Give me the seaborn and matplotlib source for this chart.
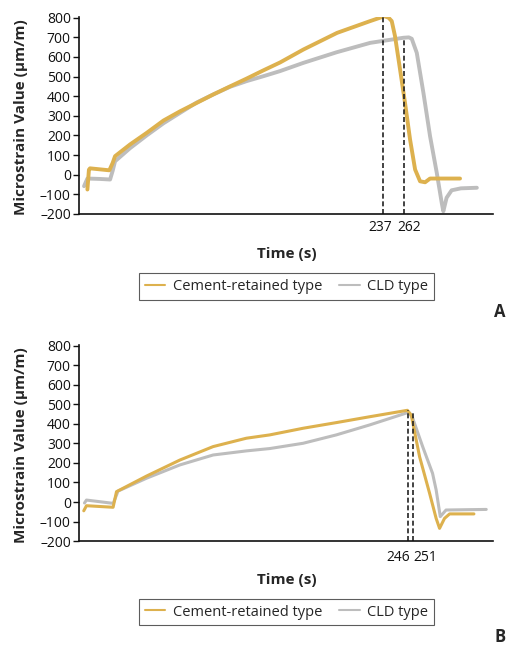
import matplotlib
matplotlib.use("Agg")
import matplotlib.pyplot as plt
import seaborn as sns
import pandas as pd

# ── Data ─────────────────────────────────────────────────────────────────────
# Panel A
a_cement_t = [-114.6, -112.8, -111.5, -100, -88.5, -84.5, -81.7, -63.8, -44, -24, -4.3,
              15.6, 35.3, 55.2, 75, 94.5, 114.7, 142.5, 182.6, 221.9, 239, 244, 247.7,
              251.6, 257.6, 263.5, 269.5, 275.5, 281.4, 287.4, 293.3, 329]
a_cement_v = [-76, 25, 32, 27, 22, 60, 94, 154, 213, 276, 323,
              366, 409, 450, 490, 531, 572, 638, 723, 783, 808, 800, 783,
              706, 536, 366, 179, 26, -34, -39, -20, -20]
a_cld_t = [-118.6, -114.6, -100, -87.6, -84.5, -81.7, -63.8, -44, -24, -4.3, 15.6,
           35.3, 55.2, 75, 94.9, 114.7, 142.5, 182, 222, 261.5, 268, 271.5, 277.5,
           285.4, 293.3, 301.3, 307.2, 309.1, 313, 319, 330, 349]
a_cld_v = [-59, -20, -22, -25, 20, 68, 135, 200, 262, 315, 368,
           409, 448, 477, 502, 528, 570, 624, 672, 698, 700, 693, 621,
           417, 196, 9, -144, -187, -118, -80, -70, -67]
a_peak_t = [237, 262]
a_peak_v = [805, 692]

# Panel B
b_cement_t = [-114.8, -111.8, -82.2, -78.4, -45, -8, 29, 66, 92, 129, 166, 203,
              245, 249.3, 258.6, 269.7, 277, 280.8, 286.3, 292, 319]
b_cement_v = [-45, -19, -27, 53, 133, 215, 284, 327, 344, 378, 407, 437,
              470, 446, 232, 45, -84, -135, -84, -61, -61]
b_cld_t = [-114, -111.8, -82, -76.7, -45, -8, 29, 66, 92, 129, 166, 203,
           246.5, 251, 262, 273, 277, 281.6, 288, 332.7]
b_cld_v = [-5, 10, -7, 56, 122, 190, 241, 262, 274, 301, 344, 395,
           460, 429, 284, 147, 62, -75, -41, -38]
b_peak_t = [246, 251]
b_peak_v = [470, 460]

SERIES = ["Cement-retained type", "CLD type"]
COLORS = {"Cement-retained type": "#DDB14E", "CLD type": "#BDBDBD"}
Y_TICKS = [-200, -100, 0, 100, 200, 300, 400, 500, 600, 700, 800]
Y_LABELS = ["\u2013200", "\u2013100"] + [str(v) for v in Y_TICKS[2:]]


def long_frame(c_t, c_v, d_t, d_v):
    dc = pd.DataFrame({"time": c_t, "strain": c_v, "type": SERIES[0]})
    dd = pd.DataFrame({"time": d_t, "strain": d_v, "type": SERIES[1]})
    return pd.concat([dd, dc], ignore_index=True)


sns.set_theme(style="ticks")
plt.rcParams["font.family"] = ["Open Sans", "DejaVu Sans"]

fig = plt.figure(figsize=(5.07, 6.46), dpi=100)
ax_a = fig.add_axes([0.156, 0.669, 0.816, 0.305])
ax_b = fig.add_axes([0.156, 0.1625, 0.816, 0.3035])

# peak labels sit side by side under the axis, nudged apart (points)
panels = [
    (ax_a, long_frame(a_cement_t, a_cement_v, a_cld_t, a_cld_v), a_peak_t, a_peak_v,
     (-124.5, 368), 2.8, [(-2.0, -10), (4.2, -10)], 0.607, 0.557, "A", 0.517),
    (ax_b, long_frame(b_cement_t, b_cement_v, b_cld_t, b_cld_v), b_peak_t, b_peak_v,
     (-120, 340), 2.2, [(-7.3, -12), (9.0, -12)], 0.102, 0.0526, "B", 0.014),
]

for ax, df, pk_t, pk_v, xlim, lw, pk_off, xl_y, lg_y, tag, tag_y in panels:
    sns.lineplot(data=df, x="time", y="strain", hue="type", hue_order=SERIES[::-1],
                 palette=COLORS, lw=lw, ax=ax, legend=False, sort=False)
    ax.vlines(pk_t, -200, pk_v, colors="#222222", linestyles=(0, (3, 1.6)), lw=1.2)

    ax.set_xlim(*xlim)
    ax.set_ylim(-200, 805)
    ax.set_yticks(Y_TICKS)
    ax.set_yticklabels(Y_LABELS)
    ax.set_xticks([])
    for t, off in zip(pk_t, pk_off):
        ax.annotate(str(t), xy=(t, 0), xycoords=("data", "axes fraction"),
                    xytext=off, textcoords="offset points",
                    ha="center", va="center", fontsize=10, color="#111111")
    ax.tick_params(axis="y", length=4, width=1, labelsize=10, pad=2, colors="#111111")
    ax.set_xlabel("")
    ax.set_ylabel("Microstrain Value (\u03bcm/m)", fontsize=11, fontweight="bold")
    ax.yaxis.set_label_coords(-0.123, 0.49)
    sns.despine(ax=ax)
    for s in ("left", "bottom"):
        ax.spines[s].set_linewidth(1.2)
        ax.spines[s].set_color("#111111")

    fig.text(0.565, xl_y, "Time (s)", ha="center", va="center",
             fontsize=11, fontweight="bold")

    handles = [plt.Line2D([], [], color=COLORS[s], lw=1.5) for s in SERIES]
    leg = fig.legend(handles, SERIES, loc="center", bbox_to_anchor=(0.565, lg_y),
                     ncol=2, frameon=True, fancybox=False, fontsize=10.5,
                     handlelength=1.4, handletextpad=0.5, columnspacing=1.2,
                     borderpad=0.4)
    leg.get_frame().set_edgecolor("#333333")
    leg.get_frame().set_linewidth(0.8)

    fig.text(0.986, tag_y, tag, ha="center", va="center", fontsize=12, fontweight="bold")

fig.savefig("out.png", dpi=100)
